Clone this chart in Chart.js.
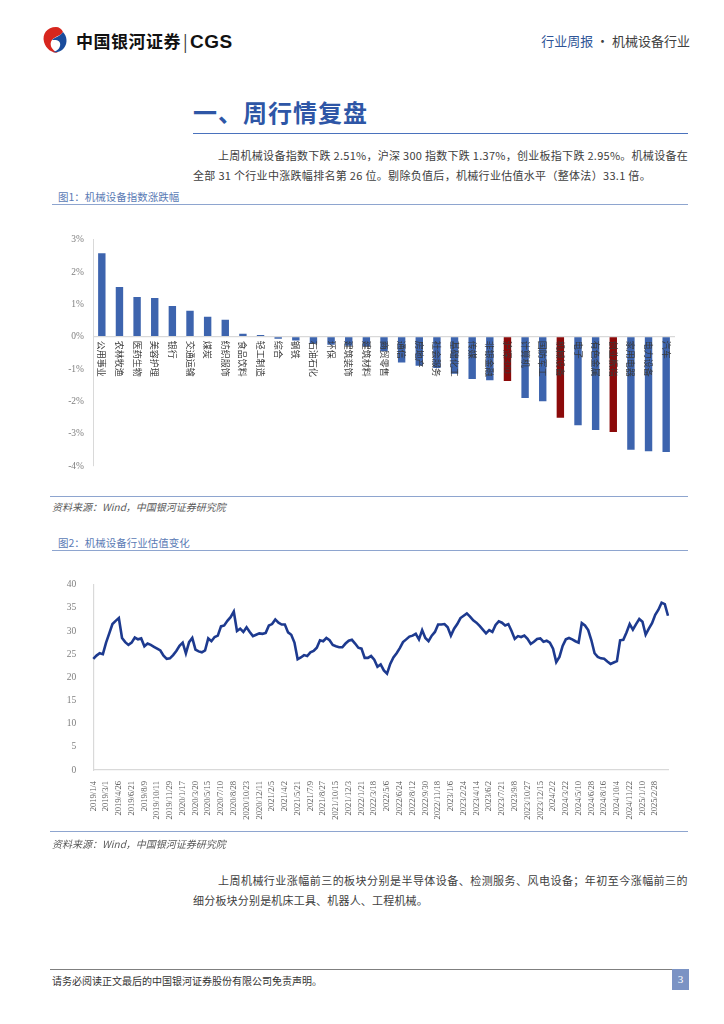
<!DOCTYPE html>
<html>
<head>
<meta charset="utf-8">
<script src="https://cdn.jsdelivr.net/npm/chart.js@4.4.1/dist/chart.umd.min.js"></script>
<style>
  html, body { margin: 0; padding: 0; background: #fff; }
  body { width: 724px; height: 1024px; position: relative; overflow: hidden;
         font-family: "Noto Sans CJK SC", "Noto Sans", sans-serif; color: #404040; }
  .abs { position: absolute; }
  .brand { left: 76px; top: 28px; font-size: 17px; font-weight: 700; color: #111; letter-spacing: 0.5px; white-space: nowrap; }
  .brand .sep { font-weight: 400; color: #333; margin: 0 2px; }
  .brand .cgs { font-family: "Liberation Sans", Arial, sans-serif; font-size: 19px; }
  .hright { right: 34px; top: 31px; font-size: 13px; white-space: nowrap; }
  .hright .b { color: #2f5597; }
  .title { left: 193px; top: 94px; font-size: 24px; font-weight: 700; color: #2e56a6; letter-spacing: 1px; }
  .rule { height: 0; }
  .para { left: 193px; width: 495px; font-size: 11px; line-height: 20px; color: #404040; }
  .para div { white-space: nowrap; }
  .para .l1 { padding-left: 25px; }
  .cap { left: 58px; font-size: 10.5px; color: #5b7bb5; }
  .src { left: 52px; font-size: 10px; color: #595959; font-style: italic; }
  .foot { left: 52px; top: 973px; font-size: 10px; color: #333; }
  .pnum { left: 672px; top: 969px; width: 17px; height: 21px; background: #7b93c4; color: #fff;
          font-size: 11px; text-align: center; line-height: 21px; font-family: "Liberation Serif", serif; }
  .box { position: absolute; }
</style>
</head>
<body>
<!-- header -->
<svg class="abs" style="left:41px;top:26px" width="30" height="28" viewBox="0 0 30 28">
  <path d="M15 1 C6 1 1 8 3 16 C5 23 11 27 17 27 C10 24 8 18 11 14 C14 10 20 10 22 6 C21 3 18 1 15 1 Z" fill="#d7261e"/>
  <path d="M22 6 C26 10 27 17 23 22 C20 26 15 27 12 26 C17 25 20 21 19 17 C18 13 12 14 11 14 C14 11 20 10 22 6 Z" fill="#1a4c9c"/>
</svg>
<div class="abs brand">中国银河证券<span class="sep">|</span><span class="cgs">CGS</span></div>
<div class="abs hright"><span class="b">行业周报</span> · 机械设备行业</div>

<div class="abs title">一、周行情复盘</div>
<div class="abs rule" style="left:193px;top:133px;width:495px;border-top:1.5px solid #4a72bd"></div>

<div class="abs para" style="top:145px">
  <div class="l1" data-fit="470">上周机械设备指数下跌 2.51%，沪深 300 指数下跌 1.37%，创业板指下跌 2.95%。机械设备在</div>
  <div data-fit="458">全部 31 个行业中涨跌幅排名第 26 位。剔除负值后，机械行业估值水平（整体法）33.1 倍。</div>
</div>

<div class="abs cap" style="top:189px">图1：机械设备指数涨跌幅</div>
<div class="abs rule" style="left:52px;top:204px;width:636px;border-top:1px solid #8ea5cf"></div>
<div class="box" style="left:40px;top:225px;width:650px;height:260px"><canvas id="barChart"></canvas></div>
<div class="abs rule" style="left:50px;top:496px;width:638px;border-top:1px solid #8ea5cf"></div>
<div class="abs src" style="top:499px">资料来源：Wind，中国银河证券研究院</div>

<div class="abs cap" style="top:535px">图2：机械设备行业估值变化</div>
<div class="abs rule" style="left:52px;top:550px;width:636px;border-top:1px solid #8ea5cf"></div>
<div class="box" style="left:40px;top:570px;width:650px;height:262px"><canvas id="lineChart"></canvas></div>
<div class="abs rule" style="left:50px;top:831px;width:638px;border-top:1px solid #8ea5cf"></div>
<div class="abs src" style="top:836px">资料来源：Wind，中国银河证券研究院</div>

<div class="abs para" style="top:870px">
  <div class="l1" data-fit="470">上周机械行业涨幅前三的板块分别是半导体设备、检测服务、风电设备；年初至今涨幅前三的</div>
  <div data-fit="235">细分板块分别是机床工具、机器人、工程机械。</div>
</div>

<div class="abs rule" style="left:50px;top:969px;width:638px;border-top:1px solid #7f7f7f"></div>
<div class="abs foot">请务必阅读正文最后的中国银河证券股份有限公司免责声明。</div>
<div class="abs pnum">3</div>

<script>
'use strict';
/*---------------------------------*/
/*-------------Data----------------*/
/*---------------------------------*/
// 图1: weekly change by industry (%), sorted
let industries = ['公用事业', '农林牧渔', '医药生物', '美容护理', '银行', '交通运输', '煤炭', '纺织服饰',
  '食品饮料', '轻工制造', '综合', '钢铁', '石油石化', '环保', '建筑装饰', '建筑材料', '商贸零售', '通信',
  '房地产', '社会服务', '基础化工', '传媒', '非银金融', '沪深300', '计算机', '国防军工', '机械设备', '电子',
  '有色金属', '创业板指', '家用电器', '电力设备', '汽车'];
let weeklyChange = [2.58, 1.54, 1.23, 1.20, 0.95, 0.80, 0.62, 0.52, 0.09, 0.05, -0.06, -0.12, -0.22, -0.25,
  -0.28, -0.30, -0.45, -0.80, -0.90, -0.97, -1.15, -1.31, -1.35, -1.37, -1.90, -2.00, -2.51, -2.74, -2.89,
  -2.95, -3.50, -3.54, -3.57];
let highlighted = ['沪深300', '机械设备', '创业板指'];

// 图2: machinery PE (TTM), 4 points per tick-label interval
let dateTicks = ['2019/1/4', '2019/3/1', '2019/4/26', '2019/6/21', '2019/8/9', '2019/10/11', '2019/11/29',
  '2020/1/17', '2020/3/20', '2020/5/15', '2020/7/10', '2020/8/28', '2020/10/23', '2020/12/11',
  '2021/2/5', '2021/4/2', '2021/5/21', '2021/7/9', '2021/8/27', '2021/10/15', '2021/12/3',
  '2022/1/21', '2022/3/18', '2022/5/6', '2022/6/24', '2022/8/12', '2022/9/30', '2022/11/18',
  '2023/1/6', '2023/2/24', '2023/4/14', '2023/6/2', '2023/7/21', '2023/9/8', '2023/10/27', '2023/12/15',
  '2024/2/2', '2024/3/22', '2024/5/10', '2024/6/28', '2024/8/16', '2024/10/4', '2024/11/22',
  '2025/1/10', '2025/2/28'];
let pointsPerTick = 4;
let peValues = [
  24.0, 24.7, 25.2, 25.0, 27.5, 29.5, 31.5, 32.2, 32.8, 28.5,
  27.6, 27.0, 27.5, 28.6, 28.2, 28.4, 26.7, 27.3, 27.0, 26.6,
  26.2, 25.8, 24.7, 24.0, 24.1, 24.8, 25.7, 26.8, 27.5, 25.2,
  27.6, 28.5, 26.0, 25.6, 25.4, 25.8, 28.4, 27.8, 28.7, 29.0,
  31.0, 31.2, 32.2, 33.0, 34.2, 30.0, 30.5, 29.8, 30.8, 29.8,
  28.9, 29.2, 29.5, 29.4, 29.6, 31.2, 31.5, 32.5, 31.8, 31.4,
  31.4, 29.7, 29.2, 27.5, 23.9, 24.3, 24.8, 24.6, 25.4, 25.7,
  26.4, 28.0, 27.8, 28.5, 28.0, 27.0, 26.7, 26.5, 26.5, 27.3,
  27.9, 28.1, 27.3, 26.4, 26.2, 24.2, 24.2, 24.6, 23.8, 22.3,
  22.8, 21.5, 20.8, 22.9, 24.3, 25.2, 26.3, 27.6, 28.2, 28.8,
  29.0, 29.4, 28.2, 30.2, 28.5, 27.8, 29.0, 29.8, 31.4, 31.4,
  31.5, 30.8, 29.0, 30.5, 31.5, 32.8, 33.3, 33.8, 33.1, 32.3,
  31.8, 31.1, 30.3, 29.5, 30.2, 29.8, 31.3, 32.1, 31.8, 31.2,
  31.5, 30.0, 28.3, 28.9, 28.7, 29.0, 28.3, 27.2, 27.7, 28.3,
  28.4, 27.7, 27.9, 27.5, 26.2, 23.3, 24.4, 26.8, 28.2, 28.5,
  28.2, 27.8, 27.5, 31.7, 31.2, 30.2, 28.0, 25.2, 24.4, 24.1,
  24.0, 23.4, 22.9, 23.2, 23.5, 28.0, 28.1, 29.7, 31.5, 30.3,
  31.5, 32.6, 32.0, 29.2, 30.5, 31.7, 33.5, 34.6, 36.1, 35.8,
  33.3];
let peTicks = [0, 5, 10, 15, 20, 25, 30, 35, 40];

/*---------------------------------*/
/*-------------Styles--------------*/
/*---------------------------------*/
let axisGrey = '#d9d9d9';
let tickGrey = '#7f7f7f';
let serifFont = '"Liberation Serif", "Noto Sans CJK SC", serif';

/*---------------------------------*/
/*-------Paragraph line fit--------*/
/*---------------------------------*/
// spreads each text line to the width it has in the page
function fitLines() {
  let lines = document.querySelectorAll('[data-fit]');
  for (let i = 0; i < lines.length; i++) {
    let el = lines[i];
    let target = parseFloat(el.getAttribute('data-fit'));
    let range = document.createRange();
    range.selectNodeContents(el);
    let w = range.getBoundingClientRect().width;
    let n = el.textContent.trim().length;
    el.style.letterSpacing = ((target - w) / n) + 'px';
  }
}

/*---------------------------------*/
/*--------Bar label plugin---------*/
/*---------------------------------*/
// category labels sit just under the zero line, reading top to bottom
let zeroLineLabels = {
  id: 'zeroLineLabels',
  afterDatasetsDraw(chart) {
    let ctx = chart.ctx;
    let xScale = chart.scales.x;
    let y0 = chart.scales.y.getPixelForValue(0);
    ctx.save();
    ctx.fillStyle = '#3a3a3a';
    ctx.font = '9px "Noto Sans CJK SC", sans-serif';
    ctx.textAlign = 'left';
    ctx.textBaseline = 'middle';
    for (let i = 0; i < industries.length; i++) {
      ctx.save();
      ctx.translate(xScale.getPixelForValue(i), y0 + 4);
      ctx.rotate(Math.PI / 2);
      ctx.fillText(industries[i], 0, 0);
      ctx.restore();
    }
    ctx.restore();
  }
};

/*---------------------------------*/
/*-----------Bar Chart-------------*/
/*---------------------------------*/
function renderBarChart() {
  let colors = industries.map(function (name) {
    return highlighted.includes(name) ? '#8b0a0a' : '#3d64ae';
  });
  new Chart(document.getElementById('barChart'), {
    type: 'bar',
    data: {
      labels: industries,
      datasets: [{
        data: weeklyChange,
        backgroundColor: colors,
        borderWidth: 0,
        barPercentage: 0.42,
        categoryPercentage: 1.0
      }]
    },
    options: {
      responsive: true,
      maintainAspectRatio: false,
      animation: false,
      layout: { padding: { top: 14, right: 15, bottom: 19, left: 0 } },
      plugins: { legend: { display: false }, tooltip: { enabled: false } },
      scales: {
        x: { display: false },
        y: {
          min: -4,
          max: 3,
          afterFit: function (scale) { scale.width = 53; },
          ticks: {
            stepSize: 1,
            color: tickGrey,
            padding: 9,
            font: { family: serifFont, size: 9.5 },
            callback: function (v) { return v + '%'; }
          },
          border: { display: true, color: axisGrey, width: 1 },
          grid: {
            drawTicks: false,
            lineWidth: 1.2,
            color: function (c) { return c.tick && c.tick.value === 0 ? axisGrey : 'rgba(0,0,0,0)'; }
          }
        }
      }
    },
    plugins: [zeroLineLabels]
  });
}

/*---------------------------------*/
/*-----------Line Chart------------*/
/*---------------------------------*/
function renderLineChart() {
  let idx = peValues.map(function (v, i) { return i; });
  new Chart(document.getElementById('lineChart'), {
    type: 'line',
    data: {
      labels: idx,
      datasets: [{
        data: peValues,
        borderColor: '#1d3a8f',
        borderWidth: 2.6,
        pointRadius: 0,
        tension: 0,
        fill: false
      }]
    },
    options: {
      responsive: true,
      maintainAspectRatio: false,
      animation: false,
      layout: { padding: { top: 14, right: 22, bottom: 4, left: 0 } },
      plugins: { legend: { display: false }, tooltip: { enabled: false } },
      scales: {
        x: {
          offset: false,
          afterFit: function (scale) { scale.height = 58; },
          ticks: {
            autoSkip: false,
            minRotation: 90,
            maxRotation: 90,
            padding: 3,
            color: '#595959',
            font: { family: serifFont, size: 8.5 },
            callback: function (v, i) {
              if (i % pointsPerTick !== 0) return '';
              return dateTicks[i / pointsPerTick] || '';
            }
          },
          grid: { display: false },
          border: { display: true, color: axisGrey, width: 1.2 }
        },
        y: {
          min: 0,
          max: 40,
          afterFit: function (scale) { scale.width = 53.3; },
          afterBuildTicks: function (scale) {
            scale.ticks = peTicks.map(function (v) { return { value: v }; });
          },
          ticks: {
            color: tickGrey,
            padding: 9,
            font: { family: serifFont, size: 9.5 }
          },
          grid: { display: false },
          border: { display: true, color: axisGrey, width: 1.2 }
        }
      }
    }
  });
}

fitLines();
renderBarChart();
renderLineChart();
</script>
</body>
</html>
